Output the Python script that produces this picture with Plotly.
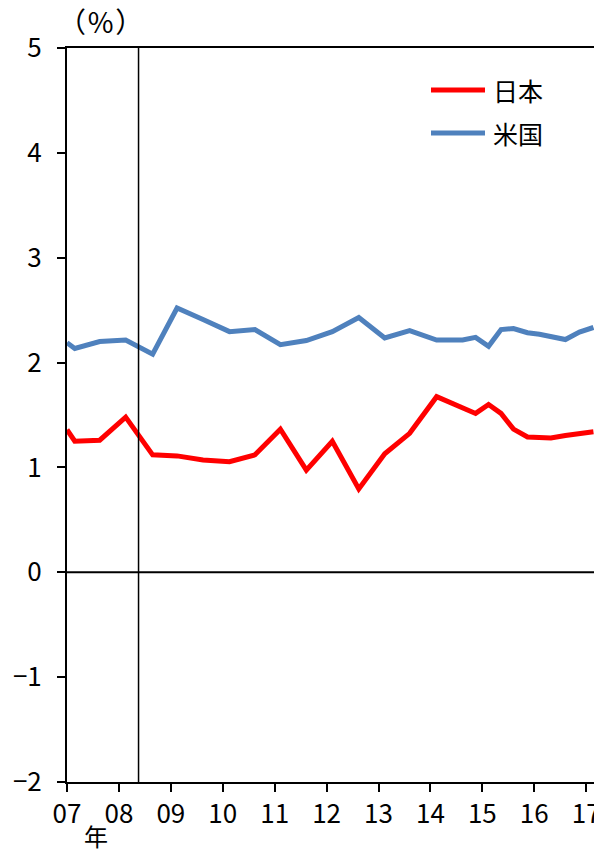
import plotly.graph_objects as go

# Japan (red)
jp_x = [2007.0, 2007.15, 2007.63, 2008.13, 2008.65, 2009.12, 2009.62, 2010.13, 2010.62,
        2011.11, 2011.61, 2012.11, 2012.62, 2013.12, 2013.6, 2014.12, 2014.87, 2015.12,
        2015.36, 2015.6, 2015.87, 2016.1, 2016.32, 2016.6, 2016.87, 2017.14]
jp_y = [1.36, 1.25, 1.26, 1.48, 1.12, 1.11, 1.07, 1.055, 1.12,
        1.365, 0.975, 1.25, 0.795, 1.13, 1.325, 1.675, 1.515, 1.60,
        1.515, 1.365, 1.29, 1.28, 1.28, 1.305, 1.32, 1.34]

# United States (blue)
us_x = [2007.0, 2007.15, 2007.63, 2008.13, 2008.65, 2009.12, 2009.62, 2010.13, 2010.62,
        2011.11, 2011.61, 2012.11, 2012.62, 2013.12, 2013.6, 2014.12, 2014.62, 2014.87,
        2015.12, 2015.36, 2015.6, 2015.87, 2016.1, 2016.32, 2016.6, 2016.87, 2017.14]
us_y = [2.19, 2.135, 2.20, 2.215, 2.08, 2.52, 2.41, 2.295, 2.315,
        2.17, 2.21, 2.295, 2.43, 2.235, 2.305, 2.215, 2.215, 2.24,
        2.155, 2.315, 2.325, 2.285, 2.27, 2.25, 2.22, 2.29, 2.335]

tick_vals = list(range(2007, 2018))
tick_text = ["07", "08", "09", "10", "11", "12", "13", "14", "15", "16", "17"]
y_ticks = [-2, -1, 0, 1, 2, 3, 4, 5]
y_text = ["\u22122", "\u22121", "0", "1", "2", "3", "4", "5"]
marker_year = 2008.378
series_names = ["日本", "米国"]
series_colors = ["#FF0000", "#4F81BD"]

fig = go.Figure()
fig.add_trace(go.Scatter(x=jp_x, y=jp_y, mode="lines", name=series_names[0],
                         line=dict(color=series_colors[0], width=5), showlegend=False))
fig.add_trace(go.Scatter(x=us_x, y=us_y, mode="lines", name=series_names[1],
                         line=dict(color=series_colors[1], width=5), showlegend=False))

fig.add_shape(type="line", xref="x", yref="paper", x0=marker_year, x1=marker_year,
              y0=0, y1=1, line=dict(color="black", width=1.5))
fig.add_shape(type="line", xref="paper", yref="y", x0=0, x1=1, y0=0, y1=0,
              line=dict(color="black", width=2))

# manual legend (paper coordinates relative to the plot area)
plot_w, plot_h = 528, 734
for i, (nm, col) in enumerate(zip(series_names, series_colors)):
    yy = 1 - (90 + 43 * i - 48) / plot_h
    fig.add_shape(type="line", xref="paper", yref="paper",
                  x0=(431 - 67) / plot_w, x1=(485 - 67) / plot_w, y0=yy, y1=yy,
                  line=dict(color=col, width=5))
    fig.add_annotation(text=nm, xref="paper", yref="paper", x=(491 - 67) / plot_w, y=yy,
                       xanchor="left", yanchor="middle", showarrow=False,
                       font=dict(family="Noto Sans CJK JP", size=25, color="black"))

tickfont = dict(family="Noto Sans CJK JP", size=26, color="black")

fig.update_xaxes(range=[2007, 2017.17], tickvals=tick_vals, ticktext=tick_text,
                 ticks="outside", ticklen=8, tickwidth=2, tickcolor="black",
                 showline=True, linecolor="black", linewidth=2, mirror=True,
                 showgrid=False, zeroline=False, tickfont=tickfont, automargin=False,
                 ticklabelstandoff=0)
fig.update_yaxes(range=[-2, 5], tickvals=y_ticks, ticktext=y_text,
                 ticks="outside", ticklen=8, tickwidth=2, tickcolor="black",
                 showline=True, linecolor="black", linewidth=2, mirror=True,
                 showgrid=False, zeroline=False, tickfont=tickfont, automargin=False,
                 ticklabelstandoff=10)

fig.add_annotation(text="（\u200a%\u200a）", xref="paper", yref="paper", x=(100 - 67) / plot_w,
                   y=1 + (48 - 21) / plot_h,
                   xanchor="center", yanchor="middle", showarrow=False,
                   font=dict(family="Noto Sans CJK JP", size=28, color="black"))
fig.add_annotation(text="年", xref="paper", yref="paper", x=(95.5 - 67) / plot_w,
                   y=-(835 - 782) / plot_h,
                   xanchor="center", yanchor="middle", showarrow=False,
                   font=dict(family="Noto Sans CJK JP", size=24, color="black"))

# page body has an 8px margin, so the figure is 8px smaller than the window
fig.update_layout(
    width=594, height=841,
    margin=dict(l=59, r=7, t=40, b=67),
    paper_bgcolor="white", plot_bgcolor="white",
    showlegend=False,
)

fig.write_html("out.html")
